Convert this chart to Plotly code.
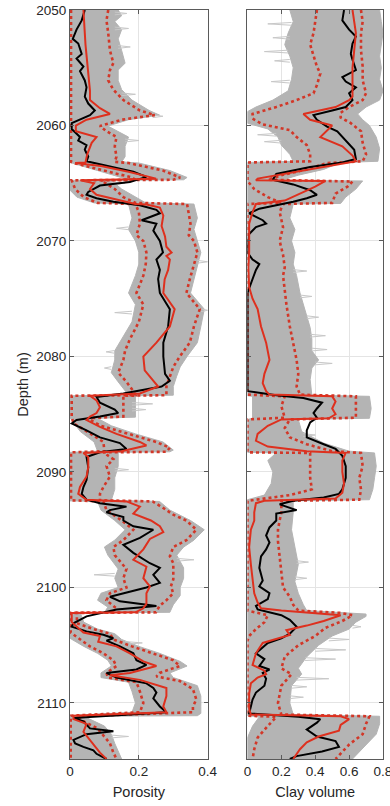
import plotly.graph_objects as go

# ---------------- Porosity log (depth m, value) ----------------
por_true = [
    (2050.0, 0.043), (2050.9, 0.034), (2051.7, 0.019), (2052.5, 0.008), (2052.9, 0.024),
    (2053.8, 0.034), (2054.2, 0.019), (2054.9, 0.039), (2055.3, 0.029), (2056.1, 0.043),
    (2056.7, 0.048), (2057.5, 0.043), (2058.1, 0.053), (2058.7, 0.072), (2059.1, 0.058),
    (2059.8, 0.005), (2060.3, 0.005), (2061.0, 0.029), (2061.3, 0.024), (2061.7, 0.048),
    (2062.1, 0.043), (2062.7, 0.053), (2063.1, 0.048), (2063.7, 0.145), (2064.0, 0.184),
    (2064.45, 0.222), (2064.9, 0.174), (2065.2, 0.087), (2065.75, 0.053), (2066.0, 0.048),
    (2066.3, 0.077), (2066.6, 0.126), (2066.8, 0.184), (2066.9, 0.203), (2067.3, 0.251),
    (2067.6, 0.261), (2068.2, 0.208), (2068.5, 0.251), (2069.1, 0.242), (2070.0, 0.261),
    (2071.0, 0.270), (2071.6, 0.251), (2072.5, 0.261), (2073.3, 0.256), (2074.5, 0.261),
    (2075.9, 0.290), (2077.4, 0.285), (2078.8, 0.271), (2080.0, 0.271), (2081.5, 0.276),
    (2082.1, 0.290), (2082.6, 0.266), (2083.2, 0.155), (2083.5, 0.077), (2084.0, 0.087),
    (2084.6, 0.130), (2084.9, 0.140), (2085.2, 0.087), (2085.5, 0.019), (2085.8, 0.005),
    (2086.4, 0.048), (2087.0, 0.087), (2087.5, 0.145), (2088.0, 0.164), (2088.3, 0.087),
    (2088.7, 0.048), (2089.6, 0.053), (2090.7, 0.048), (2091.3, 0.039), (2091.9, 0.034),
    (2092.4, 0.048), (2092.7, 0.087), (2093.0, 0.164), (2093.3, 0.116), (2093.5, 0.106),
    (2093.9, 0.155), (2094.2, 0.155), (2094.7, 0.184), (2095.0, 0.242), (2095.7, 0.203),
    (2096.3, 0.155), (2097.0, 0.184), (2097.9, 0.232), (2098.3, 0.261), (2098.9, 0.242),
    (2099.6, 0.261), (2100.0, 0.222), (2100.8, 0.116), (2101.2, 0.145), (2101.6, 0.251),
    (2101.9, 0.135), (2102.5, 0.048), (2103.1, 0.010), (2103.4, 0.005), (2103.8, 0.048),
    (2104.1, 0.097), (2104.4, 0.126), (2104.6, 0.106), (2105.1, 0.145), (2105.7, 0.184),
    (2106.3, 0.193), (2106.7, 0.222), (2107.1, 0.193), (2107.4, 0.106), (2107.8, 0.135),
    (2108.3, 0.222), (2108.7, 0.242), (2109.1, 0.251), (2109.6, 0.242), (2110.3, 0.261),
    (2110.8, 0.280), (2111.1, 0.135), (2111.3, 0.010), (2111.6, 0.039), (2112.2, 0.058),
    (2112.45, 0.126), (2112.7, 0.048), (2113.2, 0.010), (2113.5, 0.015), (2113.8, 0.039),
    (2114.1, 0.068), (2114.4, 0.077), (2114.85, 0.106),
]

por_mean = [
    (2050.0, 0.039), (2051.0, 0.040), (2052.0, 0.043), (2053.0, 0.045), (2054.0, 0.048),
    (2055.0, 0.053), (2056.0, 0.055), (2057.0, 0.058), (2057.8, 0.058), (2058.5, 0.087),
    (2059.0, 0.116), (2059.5, 0.048), (2060.0, 0.017), (2060.5, 0.017), (2061.0, 0.077),
    (2061.5, 0.063), (2062.5, 0.050), (2063.2, 0.045), (2063.25, 0.015), (2063.5, 0.090),
    (2064.0, 0.170), (2064.6, 0.250), (2064.75, 0.030), (2065.0, 0.070), (2065.5, 0.058),
    (2066.0, 0.077), (2066.4, 0.135), (2066.8, 0.190), (2066.85, 0.222), (2067.1, 0.261),
    (2067.8, 0.271), (2068.7, 0.266), (2069.6, 0.276), (2070.5, 0.280), (2071.0, 0.295),
    (2071.3, 0.280), (2071.6, 0.290), (2072.5, 0.285), (2073.3, 0.275), (2074.5, 0.271),
    (2075.9, 0.304), (2077.4, 0.290), (2078.8, 0.251), (2080.0, 0.213), (2081.2, 0.217),
    (2082.1, 0.242), (2082.6, 0.256), (2083.2, 0.203), (2083.4, 0.058), (2083.8, 0.077),
    (2084.4, 0.087), (2084.9, 0.077), (2085.2, 0.058), (2085.5, 0.048), (2086.1, 0.087),
    (2086.7, 0.135), (2087.4, 0.203), (2087.7, 0.222), (2088.2, 0.150), (2088.35, 0.039),
    (2088.7, 0.053), (2089.6, 0.053), (2090.4, 0.048), (2091.3, 0.029), (2091.9, 0.024),
    (2092.4, 0.048), (2092.55, 0.164), (2093.0, 0.203), (2093.6, 0.184), (2094.2, 0.235),
    (2094.7, 0.261), (2095.2, 0.271), (2095.8, 0.232), (2096.7, 0.213), (2097.6, 0.184),
    (2098.2, 0.222), (2099.2, 0.213), (2099.9, 0.232), (2100.5, 0.222), (2101.4, 0.222),
    (2101.8, 0.213), (2102.15, 0.190), (2102.2, 0.005), (2103.0, 0.005), (2103.9, 0.039),
    (2104.2, 0.087), (2104.7, 0.082), (2105.1, 0.135), (2105.7, 0.174), (2106.4, 0.213),
    (2106.8, 0.251), (2107.4, 0.174), (2107.6, 0.116), (2108.0, 0.203), (2108.7, 0.280),
    (2109.4, 0.280), (2110.3, 0.271), (2110.8, 0.280), (2111.1, 0.010), (2111.4, 0.010),
    (2111.8, 0.048), (2112.5, 0.039), (2113.2, 0.058), (2113.9, 0.077), (2114.3, 0.087),
    (2114.85, 0.106),
]

por_low = [
    (2050.0, 0.003), (2063.15, 0.003), (2063.25, 0.010), (2063.9, 0.100), (2064.5, 0.180),
    (2064.7, 0.190), (2064.75, 0.005), (2065.5, 0.015), (2066.2, 0.040), (2066.7, 0.080),
    (2066.8, 0.190), (2067.5, 0.200), (2068.5, 0.203), (2069.5, 0.193), (2070.0, 0.213),
    (2071.0, 0.222), (2072.0, 0.220), (2073.0, 0.213), (2074.5, 0.193), (2075.5, 0.213),
    (2077.0, 0.200), (2078.5, 0.174), (2079.5, 0.160), (2080.3, 0.155), (2081.4, 0.140),
    (2082.2, 0.164), (2083.0, 0.184), (2083.35, 0.190), (2083.4, 0.005), (2085.2, 0.005),
    (2085.8, 0.010), (2086.5, 0.050), (2087.4, 0.097), (2088.2, 0.100), (2088.3, 0.003),
    (2092.45, 0.003), (2092.55, 0.097), (2093.3, 0.106), (2094.2, 0.150), (2095.0, 0.184),
    (2095.9, 0.155), (2096.5, 0.126), (2097.2, 0.130), (2098.4, 0.164), (2099.2, 0.155),
    (2100.0, 0.164), (2100.5, 0.116), (2101.1, 0.106), (2101.7, 0.130), (2102.15, 0.120),
    (2102.2, 0.002), (2103.9, 0.002), (2104.5, 0.030), (2105.1, 0.058), (2105.7, 0.097),
    (2106.3, 0.126), (2106.8, 0.135), (2107.4, 0.106), (2107.8, 0.110), (2108.2, 0.193),
    (2109.0, 0.203), (2110.0, 0.213), (2110.8, 0.203), (2111.1, 0.002), (2114.85, 0.002),
]

por_high = [
    (2050.0, 0.111), (2050.9, 0.106), (2052.0, 0.111), (2053.5, 0.116), (2054.6, 0.126),
    (2055.2, 0.116), (2056.1, 0.111), (2056.9, 0.126), (2057.8, 0.155), (2058.7, 0.203),
    (2059.1, 0.246), (2059.5, 0.150), (2060.05, 0.087), (2060.5, 0.106), (2061.0, 0.135),
    (2061.8, 0.130), (2062.7, 0.135), (2063.15, 0.130), (2063.25, 0.170), (2063.9, 0.270),
    (2064.5, 0.320), (2064.7, 0.300), (2064.75, 0.090), (2065.5, 0.130), (2066.2, 0.155),
    (2066.7, 0.190), (2066.8, 0.340), (2067.5, 0.345), (2068.5, 0.350), (2069.5, 0.345),
    (2070.0, 0.360), (2071.0, 0.370), (2072.0, 0.360), (2073.3, 0.348), (2074.5, 0.338),
    (2075.9, 0.377), (2076.5, 0.370), (2077.4, 0.360), (2078.8, 0.348), (2080.0, 0.319),
    (2080.9, 0.300), (2081.7, 0.290), (2082.6, 0.280), (2083.35, 0.280), (2083.4, 0.155),
    (2085.2, 0.155), (2085.35, 0.050), (2086.0, 0.090), (2086.7, 0.170), (2087.4, 0.250),
    (2087.9, 0.290), (2088.25, 0.280), (2088.3, 0.097), (2088.9, 0.126), (2089.5, 0.106),
    (2090.4, 0.116), (2091.3, 0.097), (2091.9, 0.087), (2092.45, 0.087), (2092.55, 0.240),
    (2093.1, 0.270), (2093.7, 0.300), (2094.2, 0.338), (2095.0, 0.367), (2095.9, 0.338),
    (2096.5, 0.300), (2097.3, 0.290), (2097.9, 0.300), (2098.6, 0.300), (2099.3, 0.300),
    (2099.9, 0.293), (2100.5, 0.300), (2101.1, 0.280), (2101.6, 0.260), (2102.15, 0.250),
    (2102.2, 0.020), (2103.1, 0.020), (2103.6, 0.068), (2104.0, 0.116), (2104.5, 0.126),
    (2105.1, 0.180), (2105.7, 0.242), (2106.3, 0.300), (2106.8, 0.319), (2107.4, 0.260),
    (2107.7, 0.251), (2108.1, 0.319), (2108.8, 0.357), (2109.7, 0.367), (2110.3, 0.357),
    (2110.8, 0.357), (2111.15, 0.025), (2111.6, 0.040), (2112.2, 0.080), (2112.8, 0.097),
    (2113.5, 0.116), (2114.3, 0.126), (2114.85, 0.135),
]

# spread of the simulated porosity realisations
por_sims_left = [
    (2050.0, 0.0), (2063.2, 0.0), (2063.9, 0.08), (2064.6, 0.16), (2064.7, 0.16),
    (2064.75, 0.0), (2065.6, 0.0), (2066.2, 0.02), (2066.7, 0.07), (2066.8, 0.17),
    (2068.0, 0.18), (2069.0, 0.17), (2070.0, 0.19), (2071.0, 0.20), (2072.0, 0.20),
    (2073.0, 0.19), (2074.5, 0.17), (2075.5, 0.19), (2077.0, 0.18), (2078.5, 0.15),
    (2079.5, 0.13), (2080.3, 0.13), (2081.4, 0.12), (2082.2, 0.14), (2083.0, 0.16),
    (2083.35, 0.17), (2083.4, 0.0), (2085.3, 0.0), (2086.5, 0.03), (2087.4, 0.07),
    (2088.2, 0.08), (2088.3, 0.0), (2092.5, 0.0), (2092.55, 0.08), (2093.3, 0.09),
    (2094.2, 0.13), (2095.0, 0.16), (2095.9, 0.13), (2096.5, 0.10), (2097.2, 0.11),
    (2098.4, 0.14), (2099.2, 0.13), (2100.0, 0.14), (2100.5, 0.09), (2101.1, 0.08),
    (2101.7, 0.11), (2102.15, 0.10), (2102.2, 0.0), (2104.4, 0.0), (2105.1, 0.04),
    (2105.7, 0.08), (2106.3, 0.11), (2106.8, 0.12), (2107.4, 0.09), (2107.8, 0.09),
    (2108.2, 0.17), (2109.0, 0.18), (2110.0, 0.19), (2110.8, 0.18), (2111.1, 0.0),
    (2114.85, 0.0),
]

por_sims_right = [
    (2050.0, 0.14), (2050.5, 0.15), (2051.0, 0.13), (2051.7, 0.15), (2052.5, 0.14),
    (2053.5, 0.15), (2054.6, 0.16), (2055.2, 0.14), (2056.1, 0.14), (2056.9, 0.15),
    (2057.8, 0.18), (2058.7, 0.23), (2059.1, 0.26), (2059.5, 0.17), (2060.05, 0.11),
    (2060.5, 0.14), (2061.0, 0.17), (2061.8, 0.16), (2062.7, 0.16), (2063.15, 0.15),
    (2063.25, 0.20), (2063.9, 0.29), (2064.5, 0.34), (2064.7, 0.33), (2064.75, 0.12),
    (2065.5, 0.15), (2066.2, 0.19), (2066.7, 0.22), (2066.8, 0.36), (2068.0, 0.37),
    (2069.0, 0.36), (2070.0, 0.37), (2071.0, 0.38), (2072.0, 0.37), (2073.3, 0.36),
    (2074.5, 0.35), (2075.9, 0.39), (2077.4, 0.38), (2078.8, 0.37), (2080.0, 0.34),
    (2080.9, 0.32), (2081.7, 0.31), (2082.6, 0.30), (2083.35, 0.30), (2083.4, 0.19),
    (2085.25, 0.19), (2085.35, 0.08), (2086.0, 0.12), (2086.7, 0.19), (2087.4, 0.27),
    (2088.1, 0.30), (2088.25, 0.29), (2088.3, 0.14), (2089.5, 0.14), (2090.5, 0.13),
    (2091.5, 0.13), (2092.45, 0.12), (2092.55, 0.26), (2093.3, 0.29), (2094.2, 0.35),
    (2095.0, 0.39), (2095.9, 0.36), (2096.5, 0.33), (2097.2, 0.31), (2098.3, 0.33),
    (2099.2, 0.33), (2100.0, 0.32), (2100.7, 0.32), (2101.5, 0.30), (2102.15, 0.29),
    (2102.2, 0.03), (2103.0, 0.04), (2103.6, 0.08), (2104.0, 0.13), (2104.5, 0.15),
    (2105.1, 0.20), (2105.7, 0.26), (2106.4, 0.32), (2106.8, 0.34), (2107.4, 0.29),
    (2107.8, 0.30), (2108.5, 0.37), (2109.4, 0.38), (2110.3, 0.38), (2110.9, 0.38),
    (2111.1, 0.37), (2111.15, 0.04), (2112.0, 0.10), (2112.7, 0.12), (2113.5, 0.13),
    (2114.85, 0.15),
]

# single outlying realisations (depth, from, to)
por_outliers = [
    (2050.3, 0.13, 0.165), (2051.6, 0.13, 0.17), (2053.2, 0.14, 0.175), (2057.3, 0.15, 0.19),
    (2059.2, 0.24, 0.27), (2061.3, 0.16, 0.20), (2065.0, 0.12, 0.16), (2068.9, 0.17, 0.135),
    (2071.8, 0.37, 0.40), (2076.0, 0.38, 0.40), (2076.2, 0.18, 0.13), (2079.6, 0.13, 0.105),
    (2081.0, 0.12, 0.10), (2084.1, 0.18, 0.24), (2084.6, 0.18, 0.22), (2089.8, 0.13, 0.17),
    (2097.6, 0.31, 0.36), (2098.9, 0.13, 0.07), (2104.8, 0.16, 0.21), (2112.9, 0.12, 0.17),
]

# ---------------- Clay volume log (depth m, value) ----------------
clay_true = [
    (2050.0, 0.57), (2050.9, 0.56), (2051.7, 0.60), (2052.3, 0.64), (2052.9, 0.62),
    (2053.8, 0.61), (2054.3, 0.62), (2055.2, 0.64), (2055.8, 0.56), (2056.2, 0.58),
    (2056.7, 0.64), (2057.2, 0.60), (2057.8, 0.62), (2058.4, 0.58), (2058.7, 0.50),
    (2059.1, 0.39), (2059.5, 0.41), (2060.1, 0.47), (2060.5, 0.53), (2061.0, 0.56),
    (2061.6, 0.60), (2062.1, 0.63), (2062.9, 0.64), (2063.2, 0.56), (2063.6, 0.37),
    (2064.2, 0.17), (2064.7, 0.15), (2065.1, 0.27), (2065.6, 0.37), (2066.0, 0.41),
    (2066.3, 0.35), (2066.6, 0.27), (2067.2, 0.07), (2067.6, 0.01), (2068.2, 0.09),
    (2068.5, 0.11), (2068.8, 0.05), (2069.4, 0.01), (2070.0, 0.005), (2071.0, 0.0),
    (2071.6, 0.03), (2072.0, 0.07), (2072.5, 0.05), (2073.3, 0.03), (2074.5, 0.0),
    (2083.0, 0.0), (2083.1, 0.05), (2083.35, 0.17), (2083.6, 0.33), (2084.0, 0.44),
    (2084.5, 0.41), (2084.9, 0.39), (2085.3, 0.41), (2085.7, 0.37), (2086.4, 0.35),
    (2087.0, 0.35), (2087.6, 0.45), (2088.0, 0.52), (2088.6, 0.56), (2089.5, 0.58),
    (2090.5, 0.58), (2091.5, 0.56), (2091.9, 0.54), (2092.2, 0.45), (2092.5, 0.27),
    (2092.8, 0.19), (2093.3, 0.29), (2093.6, 0.17), (2094.2, 0.17), (2094.8, 0.13),
    (2095.5, 0.11), (2096.1, 0.13), (2096.7, 0.11), (2097.3, 0.08), (2098.3, 0.07),
    (2098.9, 0.08), (2099.4, 0.09), (2099.9, 0.07), (2100.5, 0.13), (2101.0, 0.12),
    (2101.6, 0.05), (2101.9, 0.06), (2102.4, 0.20), (2102.8, 0.25), (2103.4, 0.29),
    (2104.0, 0.25), (2104.4, 0.20), (2104.8, 0.12), (2105.7, 0.05), (2106.2, 0.10),
    (2106.8, 0.07), (2107.1, 0.13), (2107.4, 0.09), (2107.9, 0.11), (2108.5, 0.10),
    (2109.1, 0.05), (2109.7, 0.03), (2110.3, 0.02), (2110.9, 0.01), (2111.2, 0.30),
    (2111.4, 0.43), (2111.7, 0.41), (2112.3, 0.35), (2112.9, 0.41), (2113.3, 0.52),
    (2113.8, 0.54), (2114.2, 0.44), (2114.6, 0.29), (2114.85, 0.25),
]

clay_mean = [
    (2050.0, 0.62), (2051.0, 0.63), (2052.0, 0.64), (2053.5, 0.63), (2055.0, 0.62),
    (2056.5, 0.62), (2057.5, 0.62), (2057.8, 0.60), (2058.4, 0.52), (2059.0, 0.33),
    (2059.5, 0.37), (2060.0, 0.50), (2060.6, 0.46), (2061.0, 0.43), (2061.8, 0.56),
    (2062.6, 0.62), (2063.1, 0.64), (2063.6, 0.45), (2064.2, 0.20), (2064.6, 0.06),
    (2064.75, 0.05), (2064.8, 0.46), (2065.3, 0.40), (2066.0, 0.30), (2066.5, 0.22),
    (2066.8, 0.05), (2067.5, 0.03), (2068.5, 0.01), (2069.5, 0.01), (2071.0, 0.01),
    (2072.3, 0.005), (2074.0, 0.01), (2075.0, 0.03), (2075.9, 0.06), (2077.4, 0.08),
    (2078.8, 0.11), (2080.3, 0.13), (2081.5, 0.10), (2082.3, 0.09), (2083.0, 0.11),
    (2083.3, 0.13), (2083.45, 0.50), (2083.9, 0.52), (2084.5, 0.50), (2085.0, 0.52),
    (2085.35, 0.48), (2085.45, 0.20), (2086.0, 0.12), (2086.7, 0.06), (2087.3, 0.05),
    (2087.8, 0.12), (2088.2, 0.35), (2088.35, 0.58), (2089.0, 0.56), (2090.0, 0.56),
    (2091.0, 0.57), (2091.8, 0.56), (2092.3, 0.52), (2092.5, 0.10), (2092.7, 0.05),
    (2093.5, 0.04), (2094.2, 0.04), (2095.0, 0.02), (2096.5, 0.01), (2098.0, 0.02),
    (2099.5, 0.03), (2100.5, 0.04), (2101.3, 0.06), (2101.8, 0.08), (2102.0, 0.20),
    (2102.4, 0.55), (2102.9, 0.45), (2103.3, 0.35), (2103.7, 0.23), (2104.1, 0.25),
    (2104.8, 0.09), (2105.7, 0.05), (2106.7, 0.03), (2107.2, 0.10), (2107.5, 0.11),
    (2107.8, 0.06), (2108.3, 0.02), (2109.2, 0.01), (2110.5, 0.01), (2111.0, 0.02),
    (2111.15, 0.55), (2111.4, 0.60), (2111.9, 0.55), (2112.4, 0.54), (2112.9, 0.42),
    (2113.4, 0.35), (2114.0, 0.31), (2114.85, 0.27),
]

clay_low = [
    (2050.0, 0.41), (2051.0, 0.40), (2052.0, 0.39), (2053.0, 0.37), (2054.0, 0.39),
    (2054.9, 0.41), (2055.5, 0.43), (2056.5, 0.41), (2057.2, 0.39), (2057.8, 0.29),
    (2058.4, 0.17), (2059.0, 0.03), (2059.4, 0.03), (2059.9, 0.09), (2060.4, 0.25),
    (2061.0, 0.29), (2061.7, 0.35), (2062.5, 0.37), (2063.1, 0.37), (2063.2, 0.0),
    (2064.8, 0.0), (2065.5, 0.04), (2066.2, 0.12), (2066.7, 0.20), (2066.8, 0.0),
    (2083.3, 0.0), (2083.45, 0.22), (2084.3, 0.20), (2085.3, 0.22), (2085.45, 0.0),
    (2088.3, 0.0), (2088.35, 0.37), (2089.5, 0.37), (2090.5, 0.37), (2091.5, 0.38),
    (2092.0, 0.25), (2092.4, 0.05), (2092.5, 0.0), (2102.0, 0.0), (2102.4, 0.12),
    (2103.0, 0.10), (2103.6, 0.05), (2104.2, 0.01), (2104.6, 0.0), (2111.1, 0.0),
    (2111.2, 0.17), (2112.0, 0.12), (2113.0, 0.06), (2114.0, 0.04), (2114.85, 0.03),
]

clay_high = [
    (2050.0, 0.67), (2051.0, 0.68), (2052.0, 0.67), (2053.5, 0.67), (2054.9, 0.68),
    (2056.1, 0.68), (2057.2, 0.70), (2057.8, 0.68), (2058.4, 0.60), (2058.9, 0.55),
    (2059.3, 0.55), (2059.8, 0.61), (2060.5, 0.67), (2061.5, 0.68), (2062.5, 0.70),
    (2063.1, 0.68), (2063.25, 0.47), (2063.8, 0.35), (2064.3, 0.20), (2064.7, 0.12),
    (2064.85, 0.62), (2065.3, 0.59), (2065.9, 0.52), (2066.7, 0.50), (2066.8, 0.21),
    (2067.5, 0.19), (2068.8, 0.21), (2070.0, 0.19), (2071.2, 0.21), (2072.3, 0.22),
    (2073.0, 0.21), (2075.5, 0.23), (2077.4, 0.25), (2078.8, 0.27), (2080.3, 0.29),
    (2081.5, 0.30), (2082.6, 0.29), (2083.3, 0.31), (2083.45, 0.64), (2084.3, 0.64),
    (2085.3, 0.64), (2085.45, 0.25), (2086.2, 0.22), (2087.0, 0.25), (2087.6, 0.35),
    (2088.2, 0.50), (2088.35, 0.67), (2089.5, 0.68), (2090.5, 0.66), (2091.5, 0.67),
    (2092.4, 0.66), (2092.5, 0.20), (2093.5, 0.20), (2094.2, 0.19), (2095.0, 0.18),
    (2096.0, 0.18), (2097.5, 0.19), (2099.0, 0.20), (2100.0, 0.21), (2100.8, 0.25),
    (2101.5, 0.27), (2102.0, 0.30), (2102.2, 0.55), (2102.4, 0.62), (2102.9, 0.56),
    (2103.5, 0.46), (2104.2, 0.40), (2105.0, 0.30), (2106.0, 0.22), (2107.0, 0.20),
    (2107.5, 0.26), (2108.5, 0.20), (2110.0, 0.18), (2111.0, 0.20), (2111.15, 0.72),
    (2111.8, 0.70), (2112.7, 0.68), (2113.6, 0.60), (2114.85, 0.52),
]

clay_sims_left = [
    (2050.0, 0.25), (2051.0, 0.27), (2052.0, 0.24), (2053.0, 0.22), (2054.0, 0.25),
    (2055.0, 0.27), (2056.0, 0.26), (2057.0, 0.24), (2057.8, 0.15), (2058.4, 0.05),
    (2058.8, 0.0), (2059.8, 0.0), (2060.3, 0.12), (2061.0, 0.18), (2061.7, 0.20),
    (2062.5, 0.25), (2063.1, 0.27), (2063.2, 0.0), (2083.4, 0.0), (2083.45, 0.03),
    (2085.35, 0.03), (2085.45, 0.0), (2088.3, 0.0), (2088.35, 0.17), (2089.0, 0.12),
    (2090.0, 0.15), (2091.0, 0.14), (2092.0, 0.10), (2092.4, 0.0), (2111.1, 0.0),
    (2111.2, 0.07), (2112.0, 0.03), (2113.0, 0.0), (2114.85, 0.0),
]

clay_sims_right = [
    (2050.0, 0.78), (2051.0, 0.79), (2052.0, 0.80), (2053.0, 0.79), (2054.0, 0.78),
    (2055.0, 0.79), (2056.0, 0.78), (2057.0, 0.80), (2057.8, 0.78), (2058.4, 0.70),
    (2059.0, 0.65), (2059.5, 0.68), (2060.0, 0.72), (2061.0, 0.76), (2062.0, 0.78),
    (2063.1, 0.77), (2063.2, 0.55), (2063.8, 0.45), (2064.3, 0.30), (2064.75, 0.20),
    (2064.8, 0.68), (2065.5, 0.64), (2066.2, 0.58), (2066.75, 0.55), (2066.8, 0.27),
    (2068.0, 0.25), (2069.0, 0.28), (2070.0, 0.26), (2071.0, 0.28), (2072.0, 0.27),
    (2073.0, 0.29), (2074.5, 0.31), (2075.5, 0.33), (2076.5, 0.35), (2077.5, 0.37),
    (2078.5, 0.38), (2079.5, 0.38), (2080.3, 0.42), (2081.0, 0.38), (2082.0, 0.37),
    (2083.35, 0.38), (2083.45, 0.72), (2084.5, 0.73), (2085.35, 0.72), (2085.45, 0.30),
    (2086.5, 0.32), (2087.5, 0.45), (2088.2, 0.60), (2088.35, 0.75), (2089.5, 0.76),
    (2090.5, 0.75), (2091.5, 0.74), (2092.4, 0.72), (2092.5, 0.27), (2093.5, 0.27),
    (2095.0, 0.26), (2096.5, 0.28), (2098.0, 0.30), (2099.5, 0.28), (2100.5, 0.30),
    (2101.5, 0.33), (2102.0, 0.35), (2102.3, 0.70), (2102.5, 0.70), (2103.0, 0.64),
    (2103.6, 0.60), (2104.2, 0.50), (2105.0, 0.42), (2106.0, 0.35), (2107.0, 0.30),
    (2107.5, 0.32), (2108.5, 0.26), (2110.0, 0.25), (2111.0, 0.27), (2111.15, 0.78),
    (2111.8, 0.78), (2112.7, 0.76), (2113.6, 0.70), (2114.85, 0.62),
]

clay_outliers = [
    (2051.2, 0.26, 0.12), (2052.4, 0.25, 0.15), (2053.6, 0.24, 0.10), (2054.4, 0.25, 0.16),
    (2056.2, 0.25, 0.14), (2060.8, 0.17, 0.06), (2061.4, 0.20, 0.10), (2072.6, 0.27, 0.35),
    (2074.8, 0.31, 0.38), (2076.6, 0.35, 0.42), (2078.2, 0.37, 0.46), (2079.4, 0.38, 0.47),
    (2080.6, 0.40, 0.50), (2086.8, 0.33, 0.40), (2097.8, 0.29, 0.36), (2099.2, 0.28, 0.35),
    (2103.4, 0.62, 0.67), (2104.5, 0.48, 0.60), (2105.4, 0.40, 0.58), (2106.2, 0.34, 0.52),
    (2107.9, 0.29, 0.48), (2108.6, 0.26, 0.35), (2109.5, 0.25, 0.33),
]

DEPTH_TICKS = [2050, 2060, 2070, 2080, 2090, 2100, 2110]
POR_TICKS = [0, 0.2, 0.4]
POR_LABELS = ["0", "0.2", "0.4"]
CLAY_TICKS = [0, 0.2, 0.4, 0.6, 0.8]
CLAY_LABELS = ["0", "0.2", "0.4", "0.6", "0.8"]

GRAY = "rgb(180,180,180)"
GRAY_LIGHT = "rgb(200,200,200)"
RED = "rgb(222,48,30)"
RED_DOT = "rgb(210,55,40)"
INK = "rgb(38,38,38)"
FONT = "Liberation Sans, Arial, sans-serif"


def unzip(pairs):
    return [p[1] for p in pairs], [p[0] for p in pairs]


def add_log(fig, xa, ya, sims_left, sims_right, outliers, low, high, true, mean):
    lx, ly = unzip(sims_left)
    rx, ry = unzip(sims_right)
    fig.add_trace(go.Scatter(
        x=lx + rx[::-1], y=ly + ry[::-1], mode="lines", fill="toself",
        fillcolor=GRAY, line=dict(color=GRAY, width=1),
        xaxis=xa, yaxis=ya, hoverinfo="skip", showlegend=False))
    ox, oy = [], []
    for d, a, b in outliers:
        ox += [a, b, a, None]
        oy += [d - 0.12, d, d + 0.12, None]
    fig.add_trace(go.Scatter(
        x=ox, y=oy, mode="lines", line=dict(color=GRAY_LIGHT, width=1),
        xaxis=xa, yaxis=ya, hoverinfo="skip", showlegend=False))
    for bound in (low, high):
        bx, by = unzip(bound)
        fig.add_trace(go.Scatter(
            x=bx, y=by, mode="lines", line=dict(color=RED_DOT, width=2.6, dash="dot"),
            xaxis=xa, yaxis=ya, showlegend=False))
    tx, ty = unzip(true)
    fig.add_trace(go.Scatter(
        x=tx, y=ty, mode="lines", line=dict(color="black", width=2),
        xaxis=xa, yaxis=ya, showlegend=False))
    mx, my = unzip(mean)
    fig.add_trace(go.Scatter(
        x=mx, y=my, mode="lines", line=dict(color=RED, width=2),
        xaxis=xa, yaxis=ya, showlegend=False))


fig = go.Figure()
add_log(fig, "x", "y", por_sims_left, por_sims_right, por_outliers,
        por_low, por_high, por_true, por_mean)
add_log(fig, "x2", "y2", clay_sims_left, clay_sims_right, clay_outliers,
        clay_low, clay_high, clay_true, clay_mean)

axis_style = dict(
    showgrid=True, gridcolor="rgb(228,228,228)", gridwidth=1, zeroline=False,
    showline=True, linecolor="rgb(90,90,90)", linewidth=1, mirror="ticks",
    ticks="inside", ticklen=4, tickcolor="rgb(90,90,90)",
    tickfont=dict(family=FONT, size=13.5, color=INK), automargin=False,
    ticklabeloverflow="allow",
)
title_font = dict(family=FONT, size=14.5, color=INK)

fig.update_layout(
    width=390, height=806,
    margin=dict(l=70, r=6.7, t=10, b=46.7),
    paper_bgcolor="white", plot_bgcolor="white",
    font=dict(family=FONT, size=13.5, color=INK),
    xaxis=dict(domain=[0, 0.44], range=[0, 0.4], tickvals=POR_TICKS, ticktext=POR_LABELS,
               anchor="y", title=dict(text="Porosity", standoff=8, font=title_font),
               **axis_style),
    yaxis=dict(domain=[0, 1], range=[2114.85, 2050], tickvals=DEPTH_TICKS, anchor="x",
               title=dict(text="Depth (m)", standoff=4, font=title_font),
               **axis_style),
    xaxis2=dict(domain=[0.567, 1], range=[0, 0.8], tickvals=CLAY_TICKS, ticktext=CLAY_LABELS,
                anchor="y2", title=dict(text="Clay volume", standoff=8, font=title_font),
                **axis_style),
    yaxis2=dict(domain=[0, 1], range=[2114.85, 2050], tickvals=DEPTH_TICKS, anchor="x2",
                matches="y", showticklabels=False, **axis_style),
)

fig.write_html("out.html")
